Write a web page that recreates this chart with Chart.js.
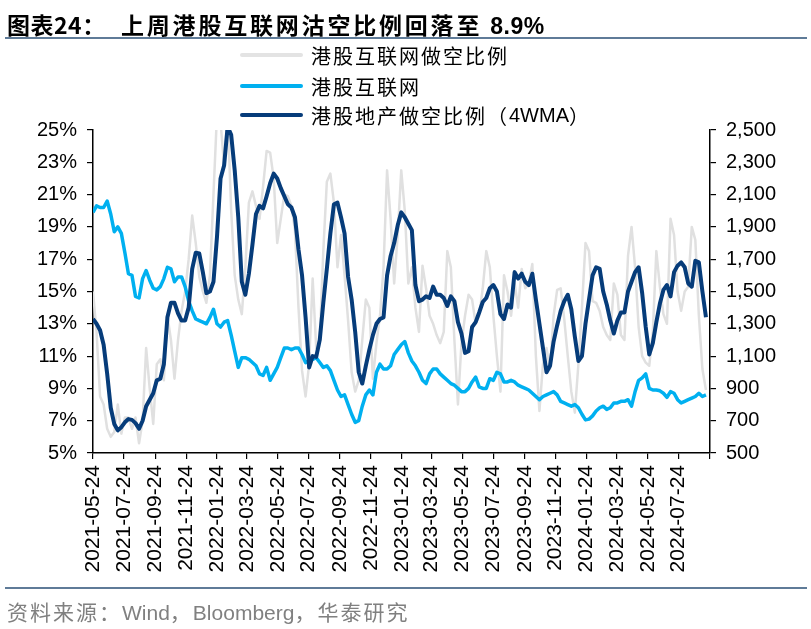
<!DOCTYPE html>
<html><head><meta charset="utf-8">
<script src="https://cdn.jsdelivr.net/npm/chart.js@4"></script>
<style>
html,body{margin:0;padding:0;background:#fff;}
#wrap{position:relative;width:811px;height:629px;overflow:hidden;background:#fff;}
canvas{position:absolute;left:0;top:0;}
.t{position:absolute;white-space:nowrap;line-height:1;}
.rule{position:absolute;left:5px;width:802px;height:2px;background:#5f7b98;}
.lg{position:absolute;left:240px;height:22px;display:flex;align-items:center;font:20px 'Noto Sans CJK SC',sans-serif;letter-spacing:2px;color:#000;}
.lg i{display:inline-block;width:63px;height:4px;margin-right:8px;border-radius:2px;}
.lg .lat{font-family:'Liberation Sans',sans-serif;letter-spacing:0;}
</style></head><body>
<div id="wrap">
<canvas id="c" width="811" height="629"></canvas>
<div class="t" style="left:7px;top:7px;font:bold 23px 'Liberation Sans Narrow','Noto Sans CJK SC',sans-serif;letter-spacing:0.5px;">图表24：</div>
<div class="t" style="left:121px;top:7px;font:bold 23px 'Noto Sans CJK SC',sans-serif;letter-spacing:2.8px;">上周港股互联网沽空比例回落至 <span style="font-family:'Liberation Sans',sans-serif;letter-spacing:0.5px">8.9%</span></div>
<div class="rule" style="top:37px;"></div>
<div class="lg" style="top:44px;"><i style="background:#e3e3e3"></i>港股互联网做空比例</div>
<div class="lg" style="top:75px;"><i style="background:#00b0f0"></i>港股互联网</div>
<div class="lg" style="top:104px;"><i style="background:#063c7a"></i>港股地产做空比例（<span class="lat">4WMA</span>）</div>
<div class="rule" style="top:587px;"></div>
<div class="t" style="left:7px;top:596px;color:#808080;font:21px 'Noto Sans CJK SC',sans-serif;letter-spacing:2px;">资料来源：<span style="font-family:'Liberation Sans',sans-serif;letter-spacing:0">Wind</span>，<span style="font-family:'Liberation Sans',sans-serif;letter-spacing:0">Bloomberg</span>，华泰研究</div>
</div>
<script>
// ---- data (weekly, starting 2021-05-24) ----
const startDate = '2021-05-24';
const axisEndDate = '2024-09-24';
const tickLabels = ['2021-05-24','2021-07-24','2021-09-24','2021-11-24','2022-01-24','2022-03-24','2022-05-24','2022-07-24','2022-09-24','2022-11-24','2023-01-24','2023-03-24','2023-05-24','2023-07-24','2023-09-24','2023-11-24','2024-01-24','2024-03-24','2024-05-24','2024-07-24'];
const leftTicks = [5,7,9,11,13,15,17,19,21,23,25];
const rightTicks = [500,700,900,1100,1300,1500,1700,1900,2100,2300,2500];

// 港股互联网做空比例 (%), left axis
const internetShortRatio = [15.0,12.5,8.5,8.0,6.5,6.0,6.3,8.0,6.2,7.2,7.2,6.5,7.2,5.6,7.0,11.5,9.0,6.8,10.5,10.8,
9.5,13.5,12.0,9.6,12.0,13.8,15.0,17.0,19.7,18.0,15.9,15.0,14.3,16.0,21.0,26.0,25.5,22.8,26.0,20.0,
16.0,14.5,13.6,16.5,20.5,21.2,20.3,19.5,21.5,23.7,23.6,22.0,18.0,19.5,21.0,20.9,20.3,18.8,14.0,10.1,
8.5,10.5,15.8,11.5,12.0,17.5,21.8,22.3,20.5,16.5,18.5,16.0,13.2,10.0,8.8,9.5,12.0,14.5,14.0,9.6,
11.8,13.5,16.5,22.5,19.5,15.5,18.5,22.5,20.0,15.5,16.5,14.0,12.5,16.6,15.2,13.5,13.0,12.3,11.8,12.5,
17.5,16.5,12.0,8.0,11.8,13.5,14.8,14.5,13.0,13.5,15.2,17.5,16.5,13.5,11.0,8.8,16.0,15.0,13.5,15.5,
14.0,16.4,15.2,15.5,16.7,11.0,7.6,10.5,11.5,10.2,13.5,15.1,15.2,13.3,11.0,8.8,7.5,10.5,14.0,18.0,
17.5,14.4,14.3,13.8,12.8,12.3,12.0,15.5,14.8,12.3,12.0,17.2,19.0,16.5,12.8,11.0,10.6,10.4,12.5,17.5,
15.3,13.6,13.0,19.5,18.5,15.0,13.8,15.0,15.3,19.0,18.2,13.5,10.2,8.9];

// 港股互联网 (%), left axis
const internetSeries = [19.9,20.3,20.2,20.2,20.6,19.8,18.7,19.0,18.6,17.4,16.1,16.0,14.7,14.6,15.8,16.3,15.7,15.2,15.1,15.3,
15.8,16.5,16.4,15.6,15.9,15.9,15.3,14.4,13.8,13.3,13.2,13.1,13.0,13.4,13.9,13.0,12.8,13.1,13.2,12.3,
11.3,10.3,10.9,10.9,10.8,10.6,10.4,9.9,9.8,10.3,9.5,9.9,10.3,10.9,11.5,11.5,11.4,11.5,11.5,11.1,
10.6,10.7,10.8,10.9,10.6,10.3,10.4,10.1,9.5,8.9,8.5,8.6,8.0,7.4,6.9,7.0,7.9,8.6,8.9,8.6,
10.0,10.5,10.2,10.2,10.4,11.1,11.4,11.7,11.9,11.2,10.7,10.4,10.0,9.5,9.3,9.9,10.2,10.2,9.9,9.7,
9.5,9.3,9.2,9.0,8.8,8.8,9.0,9.4,9.7,9.1,9.0,9.0,9.6,9.5,10.0,9.9,9.4,9.4,9.5,9.4,
9.2,9.1,9.0,8.9,8.7,8.5,8.3,8.5,8.6,8.7,8.8,8.6,8.2,8.1,8.0,7.9,8.0,7.8,7.4,7.05,
7.1,7.3,7.6,7.8,7.9,7.7,7.8,8.1,8.1,8.2,8.2,8.3,7.9,8.8,9.5,9.65,9.9,9.0,8.9,8.9,
8.85,8.7,8.45,8.8,8.7,8.3,8.1,8.2,8.3,8.4,8.5,8.7,8.5,8.6];

// 港股地产做空比例（4WMA）, right axis
const propertyShort4WMA = [1330,1300,1260,1170,990,780,680,640,660,690,710,705,685,650,700,790,830,870,950,960,
1050,1340,1430,1430,1365,1320,1320,1400,1640,1740,1735,1620,1490,1500,1560,1840,2200,2280,2520,2470,
2250,1960,1560,1480,1610,1790,1980,2030,2015,2090,2170,2230,2200,2140,2090,2040,2020,1960,1760,1600,
1340,1030,1100,1095,1200,1430,1640,1860,2040,2050,1960,1860,1590,1450,1250,1000,930,1040,1140,1230,
1300,1330,1340,1600,1720,1800,1910,1990,1960,1920,1880,1540,1440,1450,1470,1460,1530,1480,1480,1460,
1410,1470,1440,1310,1240,1120,1130,1280,1310,1370,1435,1460,1520,1540,1500,1360,1330,1420,1400,1620,
1580,1610,1560,1540,1610,1450,1300,1150,1000,1040,1190,1290,1380,1440,1480,1390,1220,1070,1100,1300,
1450,1600,1650,1640,1500,1420,1320,1240,1320,1370,1370,1500,1560,1620,1650,1490,1280,1110,1180,1310,
1425,1510,1540,1470,1620,1660,1680,1650,1550,1530,1690,1680,1500,1340];

// ---- helpers ----
const DAY = 864e5;
function toUTC(s){const p=s.split('-').map(Number);return Date.UTC(p[0],p[1]-1,p[2]);}
const t0 = toUTC(startDate);
function dayOf(s){return (toUTC(s)-t0)/DAY;}
// weekly observation dates
const weekDates = internetShortRatio.map((_,i)=>new Date(t0+i*7*DAY).toISOString().slice(0,10));
const pts = arr => arr.map((v,i)=>({x:dayOf(weekDates[i]), y:v}));

const axisFont = {family:"'Liberation Sans', Arial, sans-serif", size:20};

new Chart(document.getElementById('c'), {
  type:'line',
  data:{datasets:[
    {label:'港股互联网做空比例', data:pts(internetShortRatio), yAxisID:'y', borderColor:'#e0e0e0', borderWidth:2.5, pointRadius:0, tension:0, order:3, borderJoinStyle:'round'},
    {label:'港股互联网', data:pts(internetSeries), yAxisID:'y', borderColor:'#00b0f0', borderWidth:3.5, pointRadius:0, tension:0, order:2, borderJoinStyle:'round'},
    {label:'港股地产做空比例（4WMA）', data:pts(propertyShort4WMA), yAxisID:'y1', borderColor:'#063c7a', borderWidth:4, pointRadius:0, tension:0, order:1, borderJoinStyle:'round'}
  ]},
  options:{
    responsive:false, animation:false, devicePixelRatio:1,
    layout:{padding:{left:0,right:0,top:130,bottom:39}},
    plugins:{legend:{display:false}, tooltip:{enabled:false}},
    scales:{
      x:{type:'linear', min:0, max:dayOf(axisEndDate),
        afterBuildTicks(s){ s.ticks = tickLabels.concat([axisEndDate]).map(d=>({value:dayOf(d)})); },
        afterFit(s){ s.height = 137; },
        ticks:{autoSkip:false, minRotation:90, maxRotation:90, padding:6, color:'#000', font:{family:axisFont.family,size:21},
          callback(v,i){ return i < tickLabels.length ? tickLabels[i] : ''; }},
        grid:{display:true, drawOnChartArea:false, drawTicks:true, tickLength:6, color:'#000', lineWidth:1.2},
        border:{display:true, color:'#000', width:1.5}
      },
      y:{position:'left', min:leftTicks[0], max:leftTicks[leftTicks.length-1],
        afterBuildTicks(s){ s.ticks = leftTicks.map(v=>({value:v})); },
        afterFit(s){ s.width = 93; },
        ticks:{padding:10, color:'#000', font:axisFont, callback:v=>v+'%'},
        grid:{display:true, drawOnChartArea:false, drawTicks:true, tickLength:6, color:'#000', lineWidth:1.2},
        border:{display:true, color:'#000', width:1.5}
      },
      y1:{position:'right', min:rightTicks[0], max:rightTicks[rightTicks.length-1],
        afterBuildTicks(s){ s.ticks = rightTicks.map(v=>({value:v})); },
        afterFit(s){ s.width = 101; },
        ticks:{padding:10, color:'#000', font:axisFont, callback:v=>v.toLocaleString('en-US')},
        grid:{display:true, drawOnChartArea:false, drawTicks:true, tickLength:6, color:'#000', lineWidth:1.2},
        border:{display:true, color:'#000', width:1.5}
      }
    }
  }
});
</script>
</body></html>
